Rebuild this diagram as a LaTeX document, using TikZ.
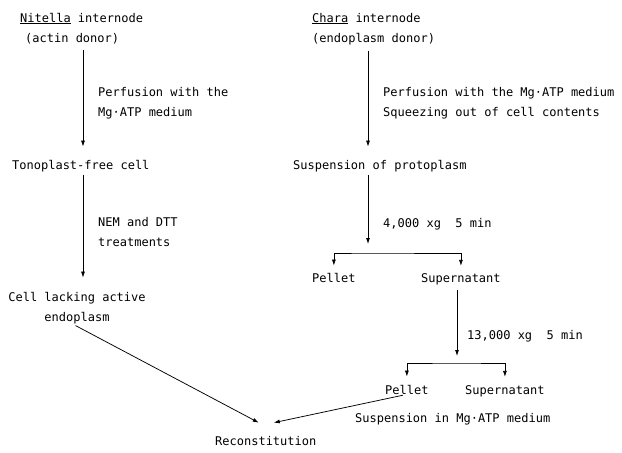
\documentclass[tikz,border=0pt]{standalone}
\usepackage{fontspec}
\newfontfamily\flowfont{DejaVu Sans Mono}
\usepackage{tikz}
\usetikzlibrary{arrows.meta, calc}

\begin{document}
\begin{tikzpicture}[x=1pt, y=-1pt,
    txt/.style={anchor=base west, inner sep=0pt, align=left, font=\flowfont\fontsize{12}{20}\selectfont},
    arr/.style={-{Latex[length=6pt,width=4pt]}, line width=0.75pt},
    fork/.style={{Latex[length=6pt,width=4pt]}-{Latex[length=6pt,width=4pt]}, line width=0.75pt}]
  \useasboundingbox (0,0) rectangle (622,453);
  % left column: actin donor
  \node[txt] (nitella) at (20,42) {\underline{Nitella} internode\\\hspace*{5pt}(actin donor)};
  \node[txt] (perfL) at (98,116) {Perfusion with the\\Mg·ATP medium};
  \node[txt] (tono) at (12,169) {Tonoplast-free cell};
  \node[txt] (nem) at (98,246) {NEM and DTT\\treatments};
  \node[txt, anchor=base, align=center] (cell) at (77,321) {Cell lacking active\\endoplasm};
  \node[txt] (recon) at (215,445) {Reconstitution};
  % right column: endoplasm donor
  \node[txt] (chara) at (312,42) {\underline{Chara} internode\\(endoplasm donor)};
  \node[txt] (perfR) at (383,116) {Perfusion with the Mg·ATP medium\\Squeezing out of cell contents};
  \node[txt] (susp) at (293,169) {Suspension of protoplasm};
  \node[txt] (spin1) at (383,227) {4,000 xg~~5 min};
  \node[txt] (pel1) at (312,282) {Pellet};
  \node[txt] (sup1) at (421,282) {Supernatant};
  \node[txt] (spin2) at (467,339) {13,000 xg~~5 min};
  \node[txt] (pel2) at (385,394) {Pellet};
  \node[txt] (sup2) at (465,394) {Supernatant};
  \node[txt] (resusp) at (355,422) {Suspension in Mg·ATP medium};

  \coordinate (colL) at (83,0);
  \coordinate (colR) at (368,0);
  \coordinate (fork1) at (368,253);
  \coordinate (fork2) at (457,363);

  \draw[arr, shorten <=6pt, shorten >=13pt] (nitella.south -| colL) -- (tono.north -| colL);
  \draw[arr, shorten <=3pt, shorten >=14pt] (tono.south -| colL) -- (cell.north -| colL);
  \draw[arr, shorten <=6pt, shorten >=13pt] (chara.south -| colR) -- (susp.north -| colR);
  \draw[arr, shorten <=3pt, shorten >=9pt] (susp.south -| colR) -- (fork1);
  \draw[fork, shorten <=7pt, shorten >=7pt] (pel1.north) |- (fork1) -| (sup1.north);
  \draw[arr, shorten <=5pt, shorten >=7pt] (sup1.south -| fork2) -- (fork2);
  \draw[fork, shorten <=8pt, shorten >=8pt] (pel2.north) |- (fork2) -| (sup2.north);
  % both lines meet at the reconstitution
  \draw[arr, shorten <=4pt] ([xshift=-5pt]cell.south) -- ([xshift=-7pt,yshift=13pt]recon.north);
  \draw[arr, shorten <=4pt] (pel2.south) -- ([xshift=8pt,yshift=13pt]recon.north);
\end{tikzpicture}
\end{document}
